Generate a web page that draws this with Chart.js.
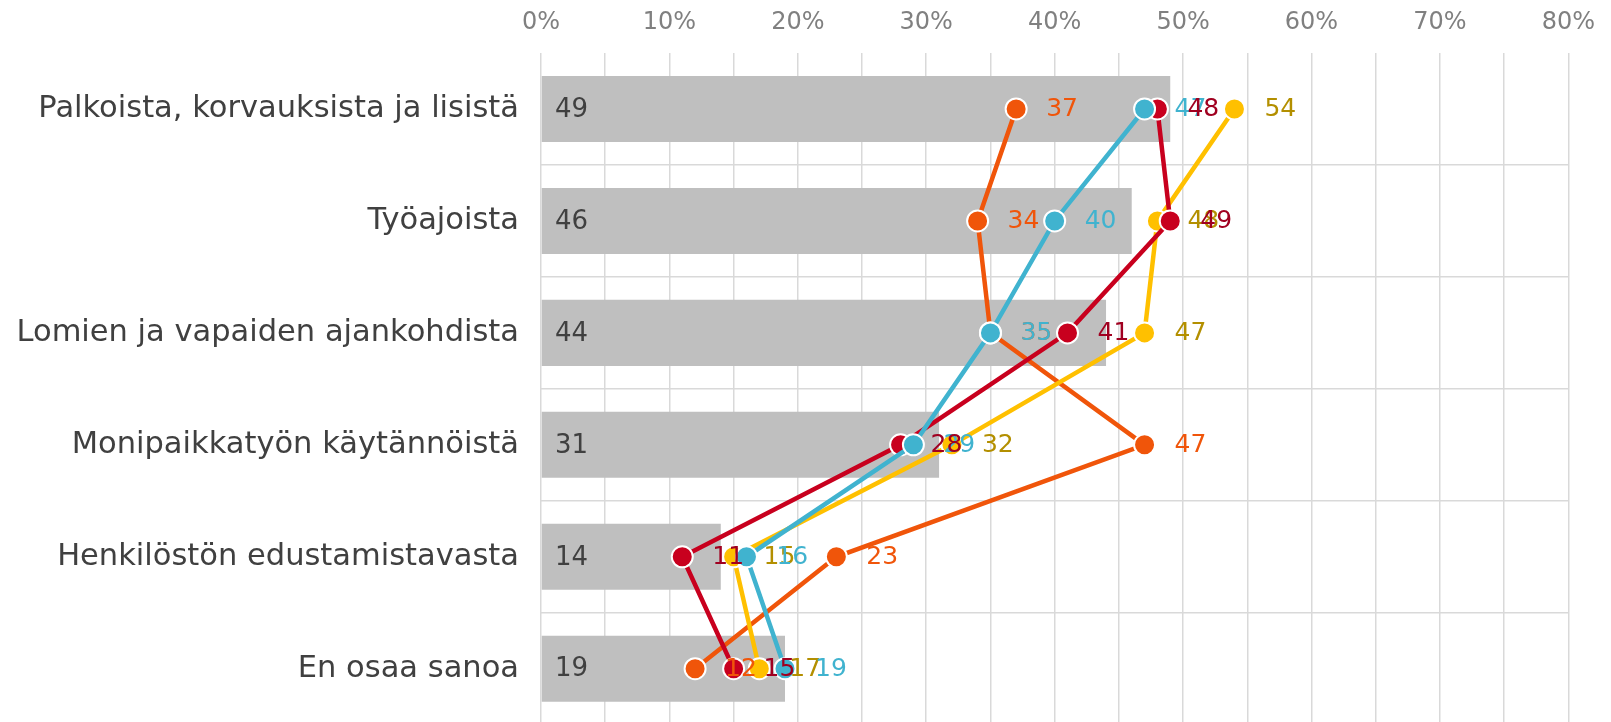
<!DOCTYPE html>
<html><head><meta charset="utf-8">
<script src="https://cdn.jsdelivr.net/npm/chart.js@4/dist/chart.umd.min.js"></script>
<style>html,body{margin:0;padding:0;overflow:hidden;background:#fff}canvas{display:block}</style>
</head><body>
<canvas id="c" width="1611" height="765"></canvas>
<script>
const categories = ["Palkoista, korvauksista ja lisistä","Työajoista","Lomien ja vapaiden ajankohdista","Monipaikkatyön käytännöistä","Henkilöstön edustamistavasta","En osaa sanoa"];
const totalValues  = [49, 46, 44, 31, 14, 19];
const orangeValues = [37, 34, 35, 47, 23, 12];
const yellowValues = [54, 48, 47, 32, 15, 17];
const redValues    = [48, 49, 41, 28, 11, 15];
const cyanValues   = [47, 40, 35, 29, 16, 19];
const xTickValues  = [0, 10, 20, 30, 40, 50, 60, 70, 80];
const xGridValues  = [0, 5, 10, 15, 20, 25, 30, 35, 40, 45, 50, 55, 60, 65, 70, 75, 80];

const FONT = "'DejaVu Sans', Verdana, sans-serif";

function lineDs(data, color, labelColor, order) {
  return {
    type: 'line', data, order,
    borderColor: color, backgroundColor: color, borderWidth: 4.5,
    pointRadius: 10.5, pointHoverRadius: 10.5, pointBackgroundColor: color,
    pointBorderColor: '#ffffff', pointBorderWidth: 2,
    tension: 0, fill: false, labelColor
  };
}

const labelPlugin = {
  id: 'valueLabels',
  afterDatasetsDraw(chart) {
    const ctx = chart.ctx;
    ctx.save();
    ctx.textBaseline = 'middle';
    ctx.textAlign = 'left';
    const barMeta = chart.getDatasetMeta(0);
    ctx.font = "26px " + FONT;
    ctx.fillStyle = '#404040';
    barMeta.data.forEach((el, i) => {
      ctx.fillText(String(chart.data.datasets[0].data[i]), chart.chartArea.left + 14, el.y + 1);
    });
    ctx.font = "25px " + FONT;
    [1, 2, 4, 3].forEach(di => {
      const ds = chart.data.datasets[di];
      const meta = chart.getDatasetMeta(di);
      ctx.fillStyle = ds.labelColor;
      meta.data.forEach((el, i) => {
        ctx.fillText(String(ds.data[i]), el.x + 30, el.y + 1);
      });
    });
    ctx.restore();
  }
};

new Chart(document.getElementById('c'), {
  type: 'bar',
  data: {
    labels: categories,
    datasets: [
      { type: 'bar', data: totalValues, backgroundColor: '#BFBFBF', order: 10,
        barPercentage: 0.59, categoryPercentage: 1.0 },
      lineDs(orangeValues, '#F0550A', '#F0550A', 4),
      lineDs(yellowValues, '#FFC000', '#B38F00', 3),
      lineDs(redValues, '#C8001E', '#A00020', 2),
      lineDs(cyanValues, '#40B3CF', '#40B3CF', 1)
    ]
  },
  options: {
    indexAxis: 'y',
    responsive: false,
    animation: false,
    layout: { padding: { left: 0, right: 30, top: 0, bottom: 0 } },
    plugins: { legend: { display: false }, tooltip: { enabled: false }, title: { display: false } },
    scales: {
      x: {
        position: 'top', min: 0, max: 80,
        afterBuildTicks: (s) => { s.ticks = xGridValues.map(v => ({ value: v })); },
        afterFit: (s) => { s.height = 53; },
        ticks: { autoSkip: false, maxRotation: 0,
          callback: v => xTickValues.includes(v) ? v + '%' : '',
          color: '#808080', font: { family: FONT, size: 24 }, padding: 16 },
        grid: { color: '#D9D9D9', lineWidth: 1.5, drawTicks: false },
        border: { display: false }
      },
      y: {
        afterFit: (s) => { s.width = 541; },
        ticks: { color: '#404040', font: { family: FONT, size: 30.5 }, padding: 22 },
        grid: { offset: true, drawTicks: false, lineWidth: 1.5,
          color: (c) => (c.index === 0 || c.index >= categories.length) ? 'rgba(0,0,0,0)' : '#D9D9D9' },
        border: { display: false }
      }
    }
  },
  plugins: [labelPlugin]
});
</script>
</body></html>
